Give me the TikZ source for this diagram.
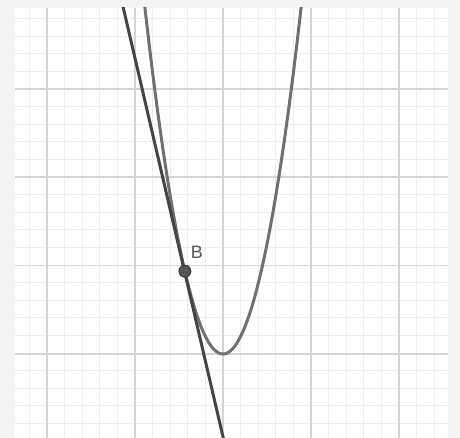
\documentclass[tikz,border=0pt]{standalone}
\usepackage{fontspec}
\setmainfont{Liberation Sans}
\definecolor{bgGray}{HTML}{F4F4F4}
\definecolor{majorGrid}{HTML}{D4D4D4}
\definecolor{minorGrid}{HTML}{EDEDED}
\definecolor{tanLine}{HTML}{444444}
\definecolor{parab}{HTML}{707070}
\definecolor{ptFill}{HTML}{555555}
\definecolor{ptDraw}{HTML}{333333}
\definecolor{lblCol}{HTML}{555555}
\begin{document}
\begin{tikzpicture}[x=1pt,y=-1pt,
  minorline/.style={draw=minorGrid,line width=1pt},
  majorline/.style={draw=majorGrid,line width=1.5pt},
  curvestyle/.style={draw=parab,line width=3pt},
  tangentstyle/.style={draw=tanLine,line width=3pt},
  ptstyle/.style={circle,fill=ptFill,draw=ptDraw,line width=0.9pt,inner sep=0pt,minimum size=12pt},
  lblstyle/.style={text=lblCol,font=\fontsize{18}{18}\selectfont,inner sep=0pt}]
\useasboundingbox (0,0) rectangle (460,438);
\fill[bgGray] (0,0) rectangle (460,438);
\fill[white] (15,8) rectangle (448,438);
\begin{scope}
\clip (15,8) rectangle (448,438);
% minor grid
\foreach \k in {-1,...,22} { \draw[minorline] ({47+17.6*\k},8) -- ({47+17.6*\k},438); }
\foreach \k in {-4,...,19} { \draw[minorline] (15,{89+17.6*\k}) -- (448,{89+17.6*\k}); }
% major grid
\foreach \xx in {47,135,223,311,399} { \draw[majorline] (\xx,8) -- (\xx,438); }
\foreach \yy in {89,177,265.5,354} { \draw[majorline] (15,\yy) -- (448,\yy); }
% parabola
\draw[curvestyle] plot[domain=140:306,samples=120,smooth] (\x,{354-(5/88)*(\x-223)*(\x-223)});
% tangent line
\coordinate (T1) at (122.4,4);
\coordinate (T2) at (224.2,442);
\draw[tangentstyle] (T1) -- (T2);
\end{scope}
\node[ptstyle] (B) at (184.9,271.2) {};
\node[lblstyle] (Blbl) at (196.8,252.6) {B};
\end{tikzpicture}
\end{document}
